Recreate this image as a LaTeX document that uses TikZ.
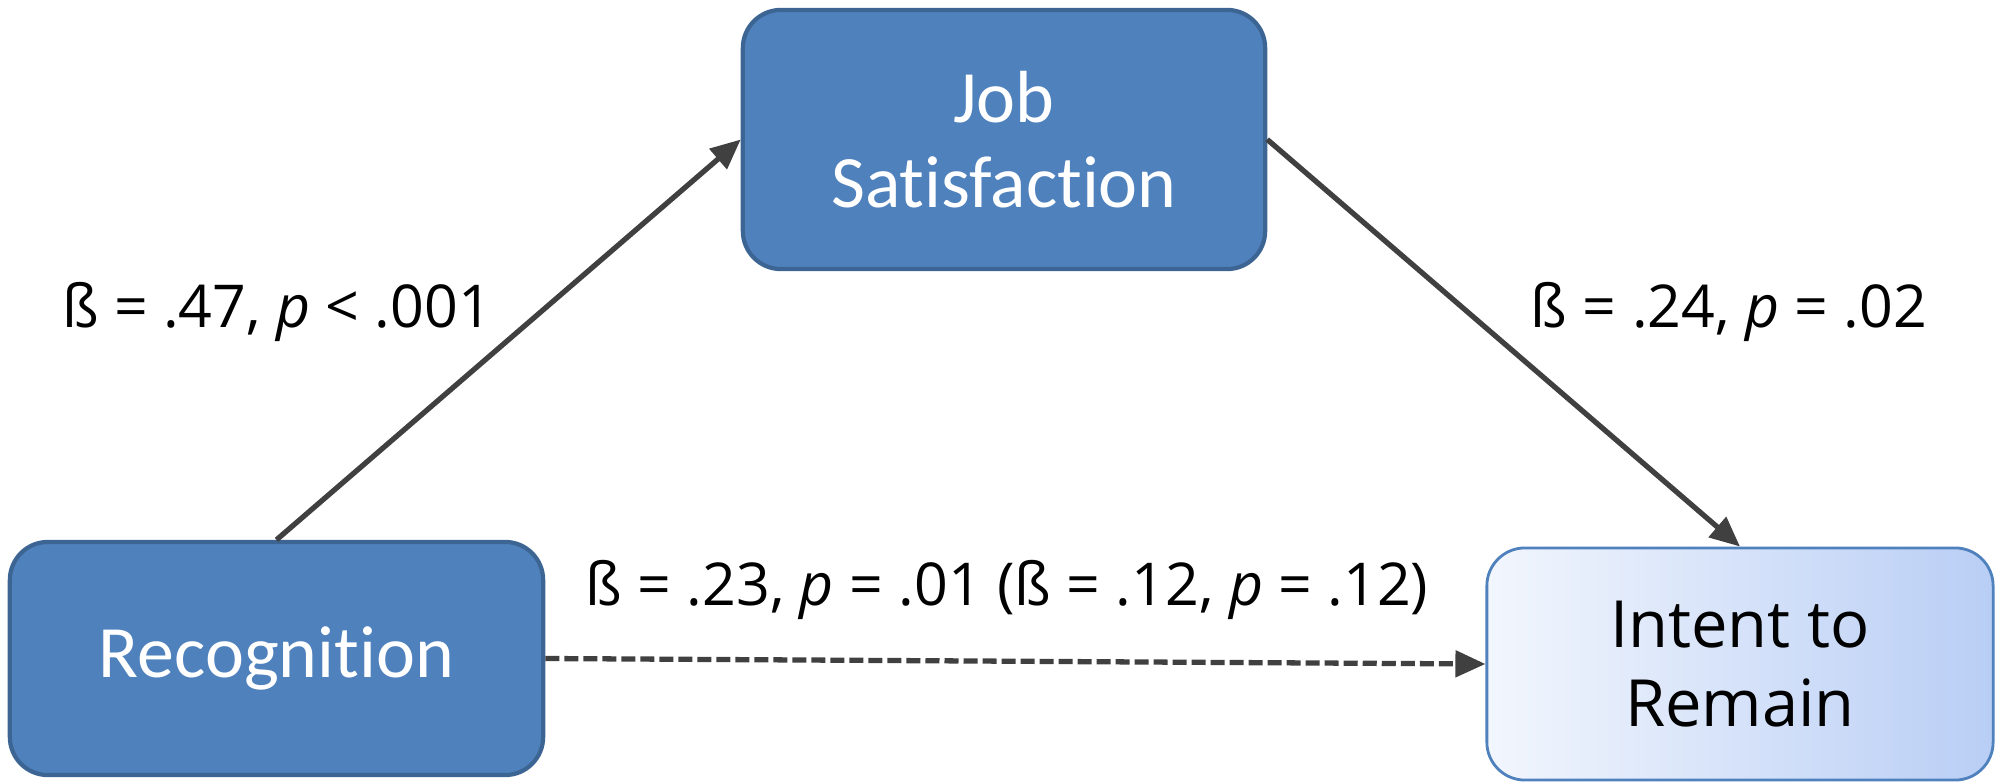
\documentclass[tikz,border=0pt]{standalone}
\usepackage{fontspec}
\setmainfont{Open Sans}
\newfontfamily\boxfont[Ligatures=NoCommon]{Carlito}
\usetikzlibrary{positioning,arrows.meta}

\definecolor{boxblue}{HTML}{4F81BD}
\definecolor{boxline}{HTML}{3D6594}
\definecolor{arrowgray}{HTML}{404040}
\definecolor{paleleft}{HTML}{F2F6FD}
\definecolor{paleright}{HTML}{B9CEF5}

\tikzset{
  varbox/.style={draw=boxline,line width=1.2pt,fill=boxblue,rounded corners=0.38cm,
    text=white,align=center,font=\boxfont\fontsize{21}{24}\selectfont},
  outbox/.style={draw=boxblue,line width=0.8pt,rounded corners=0.38cm,
    left color=paleleft,right color=paleright,align=center,
    font=\fontsize{18.5}{22.6}\selectfont},
  path/.style={draw=arrowgray,line width=1.5pt,-{Triangle[length=0.3cm,width=0.26cm]}},
  coef/.style={font=\fontsize{16.8}{19}\selectfont}
}

\begin{document}
\begin{tikzpicture}[x=0.01cm,y=-0.01cm]
  \useasboundingbox (0,0) rectangle (1999,782);
  % variables
  \node[varbox,minimum width=5.22cm,minimum height=2.59cm] (job) at (1004,139.5) {Job\\Satisfaction};
  \node[varbox,minimum width=5.33cm,minimum height=2.33cm] (rec) at (276.5,658.5) {Recognition};
  \node[outbox,minimum width=5.06cm,minimum height=2.32cm] (stay) at (1740,664) {Intent to\\Remain};
  % paths
  \draw[path] (rec.north) -- (job.west);
  \draw[path] (job.east) -- (stay.north);
  \draw[path,dash pattern=on 0.14cm off 0.05cm] (rec.east) -- (stay.west);
  % coefficients
  \node[coef] (a) at (277,312) {ß = .47, \textit{p} < .001};
  \node[coef] (b) at (1729,312) {ß = .24, \textit{p} = .02};
  \node[coef] (c) at (1007,590) {ß = .23, \textit{p} = .01 (ß = .12, \textit{p} = .12)};
\end{tikzpicture}
\end{document}
